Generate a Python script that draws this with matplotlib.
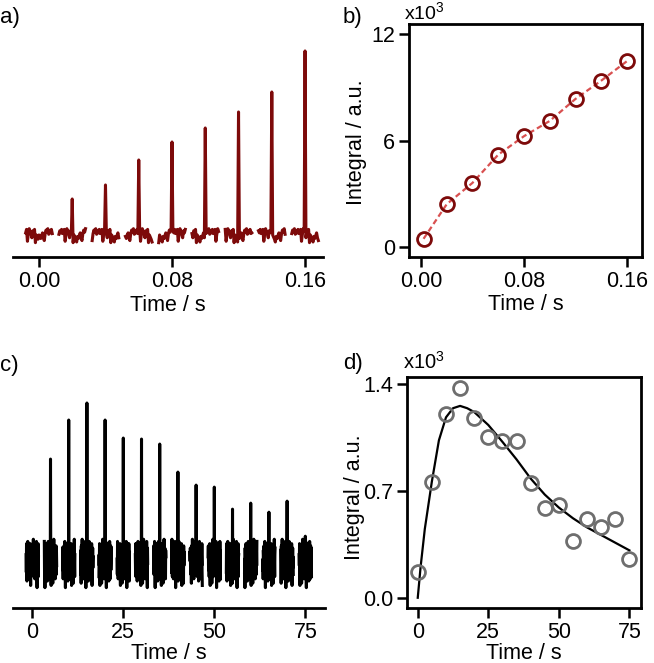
import numpy as np
import matplotlib
matplotlib.use("Agg")
from matplotlib import pyplot as plt

plt.rcParams['font.family'] = ['Liberation Sans', 'DejaVu Sans']
plt.rcParams['mathtext.fontset'] = 'custom'
plt.rcParams['mathtext.rm'] = 'Liberation Sans'
plt.rcParams['mathtext.default'] = 'regular'

#################################################################
# data

# a) echo train, one window per echo (spike height in plot units)
time_a = [0.0, 0.02, 0.04, 0.06, 0.08, 0.10, 0.12, 0.14, 0.16]
spike_a = [0, 36, 50, 75, 93, 107, 123, 143, 184]

# b) integral of each echo (x10^3)
time_b = [0.002, 0.02, 0.04, 0.06, 0.08, 0.10, 0.12, 0.14, 0.16]
integral_b = [0.48, 2.43, 3.63, 5.22, 6.26, 7.12, 8.36, 9.39, 10.49]

# c) second echo train
time_c = [0, 5, 10, 15, 20, 25, 30, 35, 40, 45, 50, 55, 60, 65, 70, 75]
spike_c = [0, 102, 141, 158, 141, 123, 122, 117, 89, 76, 74, 52, 58, 49, 60, 25]

# d) integrals (x10^3) and fitted curve
integral_d = [0.17, 0.755, 1.20, 1.37, 1.175, 1.05, 1.027, 1.027,
              0.752, 0.59, 0.61, 0.373, 0.512, 0.462, 0.517, 0.251]
fit_t = [0, 1, 2.5, 5, 7.5, 10, 12.5, 15, 17.5, 20, 25, 30, 35, 40,
         45, 50, 55, 60, 65, 70, 75]
fit_v = [0.0, 0.2, 0.45, 0.76, 1.03, 1.18, 1.24, 1.255, 1.24, 1.215, 1.13,
         1.02, 0.905, 0.78, 0.675, 0.59, 0.52, 0.46, 0.41, 0.36, 0.31]

# baseline noise pattern (typed, reused for every window)
noise = [0.3, -0.5, 0.8, -0.2, -0.9, 0.4, 0.1, -0.6, 0.9, -0.3, 0.5, -0.8,
         0.2, 0.7, -0.4, -0.1, 0.6, -0.7, 0.3, -0.2, 0.8, -0.5, -1.1, 0.4,
         0.0, 0.6, -0.3, 0.2, -0.6, 0.5, -1.0, 0.7, -0.2, 0.4, -0.5, 1.0,
         -0.1, -0.7, 0.3, 0.6, -0.4, 0.1, -0.8, 0.5, 0.2, -0.3, 0.7, -0.6,
         0.4, -0.2, 0.9, -0.5, 0.1, -1.2, 0.6, -0.1, 0.3, -0.4, 0.8, -0.7, 0.2]

dark_red = '#7d0a0a'
light_red = '#d95050'
grey = '#6e6e6e'
fs = 15.5

#################################################################

def echoTrace(ax, centers, heights, half_width, amp, color, shift, step):
  # draw one noisy window per echo with the spike in the middle
  base = np.array(noise[::step])
  n = len(base)
  for k in range(len(centers)):
    x = np.linspace(centers[k] - half_width, centers[k] + half_width, n)
    y = amp * np.roll(base, shift * k)
    y[n // 2] = heights[k]
    ax.plot(x, y, color=color, lw=2.2)


def styleAxes(ax, box):
  ax.tick_params(direction='out', length=7, width=1.8, labelsize=fs, pad=3,
                 top=False, right=False)
  for s in ax.spines.values():
    s.set_linewidth(2.0)
  if not box:
    ax.spines['top'].set_visible(False)
    ax.spines['right'].set_visible(False)
    ax.spines['left'].set_visible(False)
    ax.set_yticks([])


fig = plt.figure(figsize=(6.54, 6.63), dpi=100)

# a)
ax_a = fig.add_axes([0.0199, 0.6124, 0.474, 0.3273])
echoTrace(ax_a, time_a, spike_a, 0.008, 7, dark_red, 5, 2)
ax_a.set_xlim(-0.0156, 0.1708)
ax_a.set_ylim(-22, 195)
ax_a.set_xticks([0.0, 0.08, 0.16])
ax_a.set_xticklabels(['0.00', '0.08', '0.16'])
styleAxes(ax_a, False)
ax_a.set_xlabel('Time / s', fontsize=fs, labelpad=2)

# b)
ax_b = fig.add_axes([0.6254, 0.6128, 0.3558, 0.351])
ax_b.plot(time_b, integral_b, ls=(0, (2.5, 1.5)), color=light_red, lw=1.6,
          marker='o', ms=10, mfc='none', mec=dark_red, mew=2.0)
ax_b.set_xlim(-0.0093, 0.1714)
ax_b.set_ylim(-0.53, 12.58)
ax_b.set_xticks([0.0, 0.08, 0.16])
ax_b.set_xticklabels(['0.00', '0.08', '0.16'])
ax_b.set_yticks([0, 6, 12])
styleAxes(ax_b, True)
ax_b.set_xlabel('Time / s', fontsize=fs, labelpad=2)
ax_b.set_ylabel('Integral / a.u.', fontsize=fs)
ax_b.yaxis.set_label_coords(-0.18, 0.49)
ax_b.text(-0.02, 1.003, 'x10$^{3}$', transform=ax_b.transAxes, fontsize=14,
          ha='left', va='bottom')

# c)
ax_c = fig.add_axes([0.0199, 0.0825, 0.477, 0.3217])
echoTrace(ax_c, time_c, spike_c, 1.7, 22, 'black', 11, 1)
ax_c.set_xlim(-5.3, 80.4)
ax_c.set_ylim(-47, 166)
ax_c.set_xticks([0, 25, 50, 75])
styleAxes(ax_c, False)
ax_c.set_xlabel('Time / s', fontsize=fs, labelpad=0)

# d)
ax_d = fig.add_axes([0.6228, 0.0825, 0.3573, 0.3484])
ax_d.plot(fit_t, fit_v, color='black', lw=1.6)
ax_d.plot(time_c, integral_d, ls='none', marker='o', ms=10, mfc='none',
          mec=grey, mew=2.0)
ax_d.set_xlim(-3.7, 79.1)
ax_d.set_ylim(-0.069, 1.442)
ax_d.set_xticks([0, 25, 50, 75])
ax_d.set_yticks([0.0, 0.7, 1.4])
ax_d.set_yticklabels(['0.0', '0.7', '1.4'])
styleAxes(ax_d, True)
ax_d.set_xlabel('Time / s', fontsize=fs, labelpad=0)
ax_d.set_ylabel('Integral / a.u.', fontsize=fs)
ax_d.yaxis.set_label_coords(-0.18, 0.48)
ax_d.text(-0.02, 1.02, 'x10$^{3}$', transform=ax_d.transAxes, fontsize=14.5,
          ha='left', va='bottom')

# panel letters
fig.text(0.0, 1 - 18 / 663, 'a)', fontsize=16, va='center', ha='left')
fig.text(343 / 654, 1 - 18 / 663, 'b)', fontsize=16, va='center', ha='left')
fig.text(0.0, 1 - 365 / 663, 'c)', fontsize=16, va='center', ha='left')
fig.text(343 / 654, 1 - 363 / 663, 'd)', fontsize=16, va='center', ha='left')

fig.savefig('out.png', dpi=100)
